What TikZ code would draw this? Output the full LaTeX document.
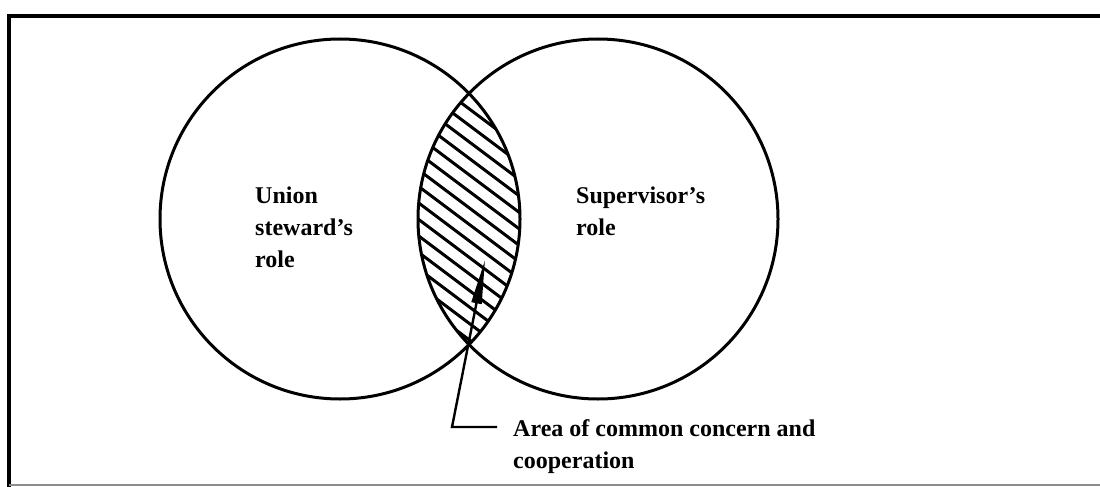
\documentclass[tikz,border=0pt]{standalone}
\usepackage{fontspec}
\setmainfont{Liberation Serif}
\usetikzlibrary{arrows.meta}
\begin{document}
\begin{tikzpicture}[x=1pt,y=-1pt,
  lbl/.style={font=\fontsize{24}{32}\selectfont\bfseries, align=left, inner sep=0pt, anchor=base west},
  ring/.style={line width=3pt},
  hatch/.style={line width=3pt},
  leader/.style={line width=2.4pt, -{Triangle[length=44pt,width=10pt]}}]
\useasboundingbox (0,0) rectangle (1100,487);
% frame
\draw[line width=3.5pt] (9,488) -- (9,16) -- (1101,16);
\draw[line width=1.2pt, black!45] (9,485) -- (1101,485);
% circles
\coordinate (CL) at (340,219);
\coordinate (CR) at (598,219);
\begin{scope}
  \clip (CL) circle[radius=180];
  \clip (CR) circle[radius=180];
  \foreach \k in {-3,...,16} {
    \draw[hatch] (270,{93+16.5*\k-150}) -- ++(400,300);
  }
\end{scope}
\draw[ring] (CL) circle[radius=180];
\draw[ring] (CR) circle[radius=180];
% labels (anchored at the baseline of the last line)
\node[lbl] (union) at (255,267) {Union\\steward's\\role};
\node[lbl] (sup) at (576,235) {Supervisor's\\role};
\node[lbl] (area) at (513,468) {Area of common concern and\\cooperation};
% leader
\coordinate (lstart) at (497,427);
\coordinate (bend) at (452,427);
\coordinate (tip) at (485,260);
\draw[leader] (lstart) -- (bend) -- (tip);
\end{tikzpicture}
\end{document}
